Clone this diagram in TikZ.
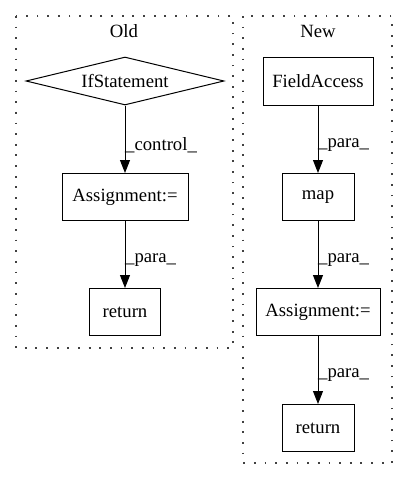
\documentclass[tikz,border=0pt]{standalone}
\usepackage{fontspec}
\setmainfont{Liberation Serif}
\usetikzlibrary{shapes.geometric,arrows.meta}
\begin{document}
\begin{tikzpicture}[x=1pt,y=-1pt,
  font=\fontsize{18.7}{22}\selectfont,
  box/.style={draw,line width=1pt,rectangle,inner sep=0pt},
  cluster/.style={draw,line width=1.5pt,dash pattern=on 1.8pt off 8.85pt,black!75},
  edge/.style={line width=1pt,-{Triangle[length=13pt,width=10pt]}},
  elab/.style={anchor=west,inner sep=0pt}]
\useasboundingbox (0,0) rectangle (408,480);
% clusters
\draw[cluster] (16,16) rectangle (233,348);
\draw[cluster] (243,16) rectangle (392,463);
\node (told) at (124,31) {Old};
\node (tnew) at (318,31) {New};
% Old
\node[draw,line width=1pt,diamond,aspect=4.1,minimum width=198pt,minimum height=48pt,inner sep=0pt] (if) at (125,81) {IfStatement};
\node[box,minimum width=126pt,minimum height=47pt] (asg1) at (125,197) {Assignment:=};
\node[box,minimum width=71pt,minimum height=47pt] (ret1) at (125,312) {return};
\draw[edge] (if.south) -- (asg1.north);
\draw[edge] (asg1.south) -- (ret1.north);
\node[elab] (l1) at (125,145) {\_control\_};
\node[elab] (l2) at (125,260) {\_para\_};
% New
\node[box,minimum width=110pt,minimum height=48pt] (fa) at (318,81) {FieldAccess};
\node[box,minimum width=72pt,minimum height=47pt] (map) at (318,197) {map};
\node[box,minimum width=124pt,minimum height=47pt] (asg2) at (318,312) {Assignment:=};
\node[box,minimum width=72pt,minimum height=47pt] (ret2) at (318,428) {return};
\draw[edge] (fa.south) -- (map.north);
\draw[edge] (map.south) -- (asg2.north);
\draw[edge] (asg2.south) -- (ret2.north);
\node[elab] (l3) at (318,145) {\_para\_};
\node[elab] (l4) at (318,260) {\_para\_};
\node[elab] (l5) at (318,375) {\_para\_};
\end{tikzpicture}
\end{document}
